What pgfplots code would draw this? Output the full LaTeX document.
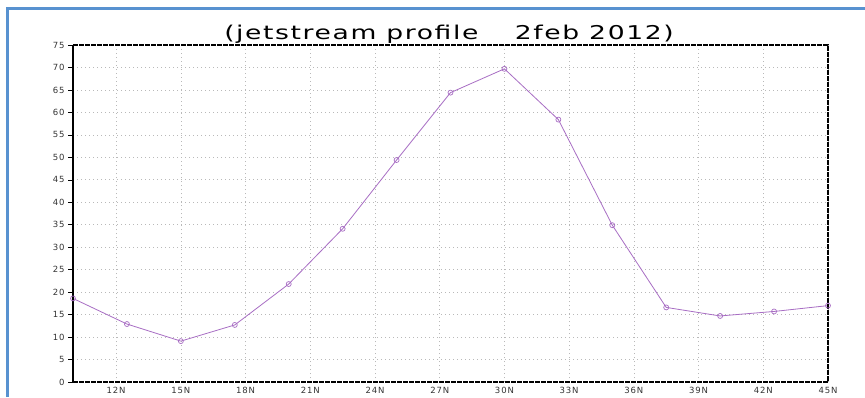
\documentclass[border=0pt]{standalone}
\usepackage{pgfplots}
\pgfplotsset{compat=1.18}
\usepackage{fontspec}
\setmainfont{DejaVu Sans}
\newfontfamily\titlefont[LetterSpace=6]{DejaVu Sans}
\newfontfamily\tickfont[LetterSpace=10]{DejaVu Sans}
\definecolor{jetpurple}{RGB}{168,110,196}
\definecolor{framblue}{RGB}{88,146,208}
\pgfplotstableread{
lat speed
10   18.6
12.5 12.9
15   9.1
17.5 12.7
20   21.8
22.5 34.1
25   49.4
27.5 64.4
30   69.7
32.5 58.4
35   34.9
37.5 16.6
40   14.7
42.5 15.7
45   17.0
}\jetdata
\begin{document}
\begin{tikzpicture}
\useasboundingbox (0pt,0pt) rectangle (865pt,397pt);
\fill[white] (0pt,0pt) rectangle (865pt,397pt);
\draw[framblue, line width=2.5pt] (7.5pt,0pt) -- (7.5pt,388.5pt) -- (865pt,388.5pt);
\node[font=\titlefont\fontsize{19}{21}\selectfont, anchor=base, inner sep=0pt, xscale=1.4] at (449pt,357pt) {(jetstream profile\hspace{26pt}2feb 2012)};
\begin{axis}[
  at={(73pt,15pt)}, anchor=south west,
  width=755pt, height=337pt, scale only axis,
  xmin=10, xmax=45, ymin=0, ymax=75,
  xtick={12,15,...,45},
  xticklabels={12N,15N,18N,21N,24N,27N,30N,33N,36N,39N,42N,45N},
  ytick={0,5,...,75},
  axis line style={draw=none},
  tick style={black, line width=0.6pt},
  xtick style={draw=none},
  ytick pos=left, tick align=outside, major tick length=5pt,
  ticklabel style={font=\tickfont\fontsize{8.5}{9}\selectfont, text=black!80},
  yticklabel style={xshift=0pt},
  xticklabel style={yshift=3.5pt},
  /pgf/number format/assume math mode=true,
  grid=major,
  major grid style={gray!55, dash pattern=on 1pt off 3pt, line width=0.7pt},
  clip=false,
]
\addplot[jetpurple, line width=0.8pt, mark=o, mark size=2.5pt,
  mark options={fill=white, line width=0.7pt}] table[x=lat,y=speed] {\jetdata};
\draw[black, line width=1.8pt] (rel axis cs:0,0) -- (rel axis cs:0,1);
\draw[black, line width=1.4pt, dash pattern=on 5pt off 1pt] (rel axis cs:0,1) -- (rel axis cs:1,1) -- (rel axis cs:1,0) -- (rel axis cs:0,0);
\end{axis}
\end{tikzpicture}
\end{document}
